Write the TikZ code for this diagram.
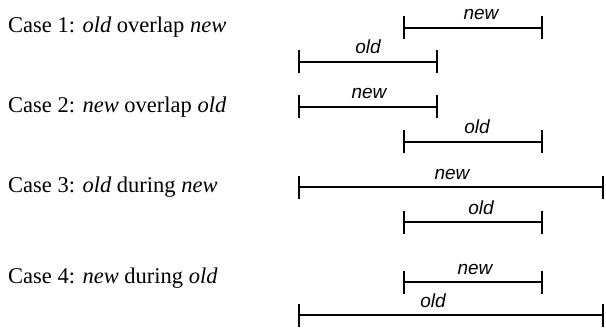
\documentclass[tikz,border=0pt]{standalone}
\usepackage{fontspec}
\setmainfont{Liberation Serif}
\newfontfamily\labelfont{Liberation Sans}
\usetikzlibrary{arrows.meta}
\tikzset{
  casetext/.style={anchor=base west, inner sep=0pt, font=\fontsize{22.5}{26}\selectfont},
  barlabel/.style={anchor=base, inner sep=0pt, font=\labelfont\itshape\fontsize{19}{22}\selectfont},
  interval/.style={line width=1.4pt, {Bar[width=23pt,line width=1.8pt]}-{Bar[width=23pt,line width=1.8pt]}}
}
\begin{document}
\begin{tikzpicture}[x=1pt, y=-1pt]
\useasboundingbox (0,0) rectangle (606,329);

% case captions
\node[casetext] (c1) at (8,33)  {Case 1: \textit{old} overlap \textit{new}};
\node[casetext] (c2) at (8,113) {Case 2: \textit{new} overlap \textit{old}};
\node[casetext] (c3) at (8,192) {Case 3: \textit{old} during \textit{new}};
\node[casetext] (c4) at (8,283) {Case 4: \textit{new} during \textit{old}};

% interval end points
\coordinate (n1a) at (403,28);  \coordinate (n1b) at (543,28);
\coordinate (o1a) at (298,62);  \coordinate (o1b) at (438,62);
\coordinate (n2a) at (298,107); \coordinate (n2b) at (438,107);
\coordinate (o2a) at (403,142); \coordinate (o2b) at (543,142);
\coordinate (n3a) at (298,187); \coordinate (n3b) at (604,187);
\coordinate (o3a) at (403,222); \coordinate (o3b) at (543,222);
\coordinate (n4a) at (403,282); \coordinate (n4b) at (543,282);
\coordinate (o4a) at (298,315); \coordinate (o4b) at (604,315);

% intervals
\draw[interval] (n1a) -- (n1b);
\draw[interval] (o1a) -- (o1b);
\draw[interval] (n2a) -- (n2b);
\draw[interval] (o2a) -- (o2b);
\draw[interval] (n3a) -- (n3b);
\draw[interval] (o3a) -- (o3b);
\draw[interval] (n4a) -- (n4b);
\draw[interval] (o4a) -- (o4b);

% interval labels
\node[barlabel] (ln1) at (481,20)  {new};
\node[barlabel] (lo1) at (368,54)  {old};
\node[barlabel] (ln2) at (369,99)  {new};
\node[barlabel] (lo2) at (477,134) {old};
\node[barlabel] (ln3) at (452,179) {new};
\node[barlabel] (lo3) at (481,214) {old};
\node[barlabel] (ln4) at (475,274) {new};
\node[barlabel] (lo4) at (433,307) {old};
\end{tikzpicture}
\end{document}
